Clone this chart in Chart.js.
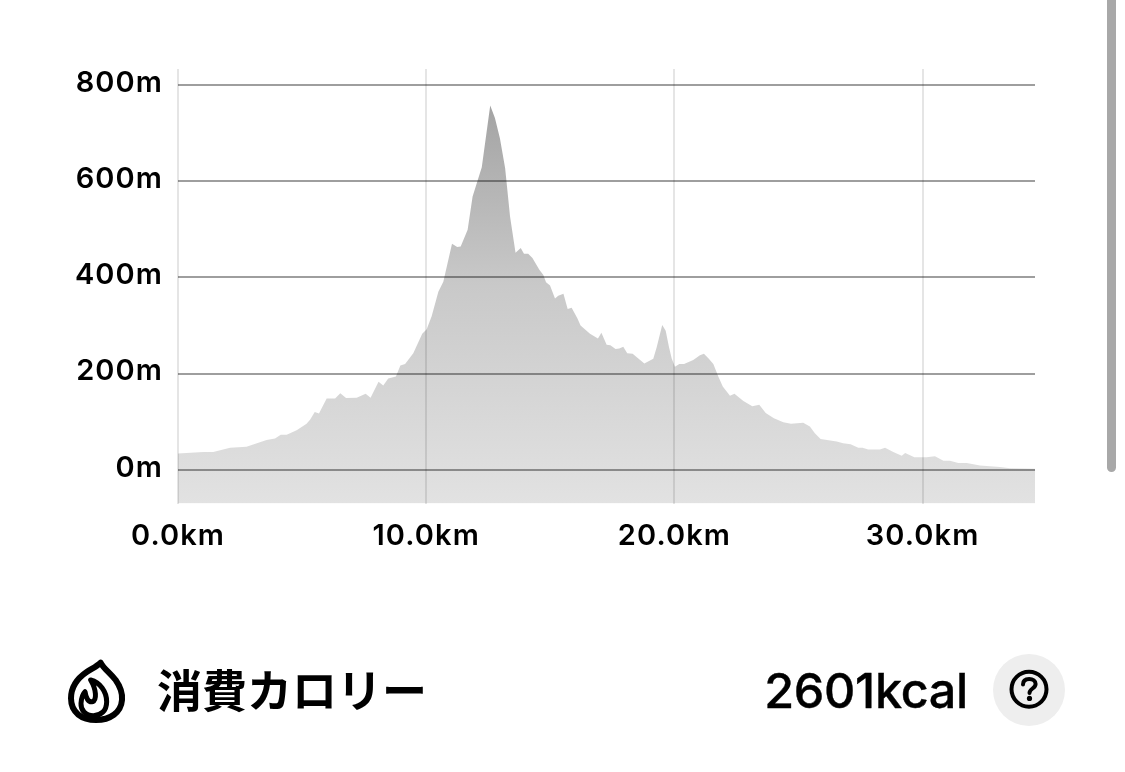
<!DOCTYPE html>
<html lang="ja">
<head>
<meta charset="utf-8">
<script src="https://cdn.jsdelivr.net/npm/chart.js@4"></script>
<style>
html,body{margin:0;padding:0;background:#fff;width:1125px;height:772px;overflow:hidden}
canvas{position:absolute;left:0;top:0}
.t{position:absolute;color:#000;white-space:nowrap;line-height:1}
#title{left:157px;top:656px;font:700 45px "Noto Sans CJK JP";}
#value{right:157px;top:661px;font:500 48.5px Inter;letter-spacing:-.3px;-webkit-text-stroke:.4px #000}
#bar{position:absolute;left:1107px;top:-10px;width:9px;height:482px;background:#a8a8a8;border-radius:4.5px}
svg{position:absolute}
</style>
</head>
<body>
<canvas id="c" width="1125" height="772"></canvas>
<div class="t" id="title">消費カロリー</div>
<div class="t" id="value">2601kcal</div>
<div id="bar"></div>
<svg style="left:60px;top:650px" width="75" height="80" viewBox="0 0 225 240" fill="none" stroke="#000" stroke-width="18" stroke-linejoin="round" stroke-linecap="round">
<path d="M122 38C130 55 150 68 167 90C181 110 188 130 186 150C183 188 150 210 108 210C66 210 33 188 33 145C33 112 52 85 80 66C95 56 110 50 122 38Z"/>
<path d="M92 90C120 97 140 125 140 155C140 183 122 197 100 197C76 197 62 180 63 160C64 145 68 132 75 125C78 145 85 158 98 155C110 150 110 120 92 90Z" stroke-width="15"/>
</svg>
<svg style="left:993px;top:654px" width="72" height="72" viewBox="0 0 72 72">
<circle cx="36" cy="36" r="36" fill="#eeeeee"/>
<circle cx="36" cy="35.3" r="17.5" fill="none" stroke="#000" stroke-width="4"/>
<path d="M30 30.5C30 26.5 32.8 25 36.2 25C39.8 25 42.6 27 42.6 30C42.6 34.5 36.5 34.5 36.5 39" fill="none" stroke="#000" stroke-width="4" stroke-linecap="round"/>
<circle cx="36.5" cy="44.4" r="2.6" fill="#000"/>
</svg>
<script>
const distanceKm = [0,1.02,1.42,2.1,2.76,3.57,3.91,4.14,4.38,4.78,5.18,5.32,5.51,5.68,5.99,6.33,6.54,6.77,7.2,7.56,7.76,8.08,8.27,8.47,8.78,8.96,9.15,9.48,9.84,10.02,10.22,10.49,10.69,11.04,11.25,11.39,11.67,11.87,12.24,12.58,12.77,12.97,13.18,13.38,13.6,13.81,13.94,14.11,14.28,14.56,14.72,14.83,14.99,15.19,15.32,15.53,15.7,15.86,16.09,16.22,16.6,16.92,17.06,17.27,17.42,17.63,17.78,17.94,18.1,18.32,18.51,18.79,19.15,19.29,19.51,19.65,19.78,19.89,20.02,20.2,20.39,20.76,21.03,21.19,21.37,21.57,21.77,21.95,22.24,22.42,22.78,23.14,23.42,23.68,24.01,24.39,24.7,25.19,25.46,25.66,25.89,26.54,26.8,27.1,27.41,27.58,27.81,28.28,28.49,28.82,29.16,29.3,29.67,30.16,30.5,30.84,31.1,31.44,31.78,32.31,33.12,33.52,34.53];
const elevationM = [34,37,37,46,48,62,65,73,73,82,96,104,120,117,148,148,159,149,150,158,150,183,175,190,194,217,220,242,283,292,319,370,391,470,463,464,499,568,629,757,731,689,627,526,451,461,449,449,440,416,405,390,383,356,362,366,334,337,315,300,283,273,285,260,259,251,252,256,242,241,233,221,231,255,301,289,256,232,214,220,220,228,238,241,232,220,194,173,154,158,143,132,135,118,107,99,96,98,90,76,64,59,55,53,46,46,42,42,46,37,29,35,26,26,28,19,19,14,14,9,6,3,2];
const xTicks = [0,10,20,30];
const yTicks = [0,200,400,600,800];
const xLabel = v => v.toFixed(1) + 'km';
const yLabel = v => v + 'm';
const tickFont = {family:'Inter', size:29, weight:'600'};

const spacing = {id:'spacing', beforeDraw(chart){chart.ctx.letterSpacing='1.1px';}};

new Chart(document.getElementById('c'), {
  type:'line',
  plugins:[spacing],
  data:{datasets:[{
    data:distanceKm.map((x,i)=>({x, y:elevationM[i]})),
    borderWidth:0, pointRadius:0, tension:0, fill:'start',
    backgroundColor(ctx){
      const a = ctx.chart.chartArea;
      if(!a) return '#ccc';
      const g = ctx.chart.ctx.createLinearGradient(0,a.top,0,a.bottom);
      g.addColorStop(0,'#9c9c9c');
      g.addColorStop(0.5,'#c9c9c9');
      g.addColorStop(1,'#e2e2e2');
      return g;
    }
  }]},
  options:{
    responsive:false, animation:false, devicePixelRatio:1,
    layout:{padding:{top:69,right:90,left:0,bottom:208.5}},
    plugins:{legend:{display:false},tooltip:{enabled:false},title:{display:false}},
    scales:{
      x:{type:'linear',min:0,max:34.53,
        border:{display:false},
        grid:{color:'rgba(0,0,0,0.10)',lineWidth:2,drawTicks:false,z:1},
        afterBuildTicks(s){s.ticks=xTicks.map(value=>({value}));},
        afterFit(s){s.height=60;},
        ticks:{color:'#000',font:tickFont,padding:15,maxRotation:0,autoSkip:false,callback:xLabel}},
      y:{type:'linear',min:-70,max:833,
        border:{display:false},
        grid:{color:'rgba(0,0,0,0.38)',lineWidth:2,drawTicks:false,z:1},
        afterBuildTicks(s){s.ticks=yTicks.map(value=>({value}));},
        afterFit(s){s.width=178;},
        ticks:{color:'#000',font:tickFont,padding:15,labelOffset:-2,autoSkip:false,callback:yLabel}}
    }
  }
});
</script>
</body>
</html>
